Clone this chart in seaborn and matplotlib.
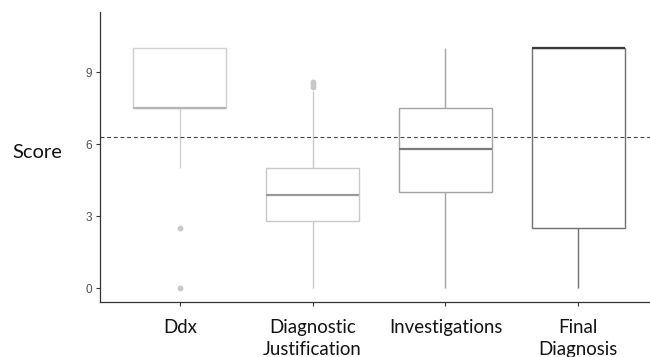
import numpy as np
import pandas as pd
import matplotlib
matplotlib.use("Agg")
import matplotlib.pyplot as plt
import seaborn as sns

categories = ["Ddx", "Diagnostic\nJustification", "Investigations", "Final\nDiagnosis"]
ddx = [0, 2.5, 5, 7.5, 7.5, 7.5, 7.5, 7.5, 7.5, 10, 10, 10, 10, 10]
diag_just = [0, 0.7, 1.3, 1.8, 2.2, 2.5, 2.8, 3.0, 3.2, 3.4, 3.6, 3.8, 3.9,
             4.1, 4.3, 4.5, 4.7, 4.9, 5.0, 5.6, 6.4, 8.2, 8.4, 8.5, 8.6]
investigations = [0, 2.5, 4.0, 5.0, 5.8, 6.7, 7.5, 8.8, 10]
final_dx = [0, 2.5, 2.5, 10, 10, 10, 10, 10, 10]
reference_line = 6.3
yticks = [0, 3, 6, 9]

box_colors = ["#cfcfcf", "#c9c9c9", "#a3a3a3", "#707070"]
median_colors = ["#b5b5b5", "#9a9a9a", "#7a7a7a", "#3a3a3a"]

series = [ddx, diag_just, investigations, final_dx]
df = pd.DataFrame({
    "Category": np.repeat(categories, [len(s) for s in series]),
    "Score": np.concatenate(series),
})

sns.set_theme(style="white")
fig = plt.figure(figsize=(6.5, 3.57), dpi=100)
ax = fig.add_axes([0.154, 0.154, 0.846, 0.812])

for cat, bc, mc in zip(categories, box_colors, median_colors):
    sub = df[df["Category"] == cat]
    sns.boxplot(data=sub, x="Category", y="Score", order=categories, ax=ax,
                color="white", linecolor=bc, width=0.7, linewidth=1.0,
                showcaps=False,
                medianprops=dict(color=mc, linewidth=1.6),
                flierprops=dict(marker="o", markersize=3.2, markerfacecolor="#c8c8c8",
                                markeredgecolor="#c8c8c8"))

ax.axhline(reference_line, color="#444444", linewidth=0.8, linestyle=(0, (3.5, 2.5)))

ax.set_ylim(-0.58, 11.5)
ax.set_xlim(-0.6, 3.54)
ax.set_yticks(yticks)
ax.set_yticklabels([str(t) for t in yticks], fontsize=8.5, color="#4d4d4d",
                   family=["Liberation Sans", "DejaVu Sans"])
ax.set_xticks(range(len(categories)))
ax.set_xticklabels(categories, fontsize=13.4, color="#111111", family=["Lato", "DejaVu Sans"],
                   linespacing=1.35)
ax.tick_params(axis="both", which="both", length=3, width=0.8, color="#333333",
               left=True, bottom=True)
ax.tick_params(axis="x", pad=9)
ax.tick_params(axis="y", pad=3)

ax.set_xlabel("")
ax.set_ylabel("Score", rotation=0, fontsize=14.5, family=["Lato", "DejaVu Sans"],
              color="#111111", labelpad=0)
ax.yaxis.set_label_coords(-0.115, 0.485)

for s in ["top", "right"]:
    ax.spines[s].set_visible(False)
for s in ["left", "bottom"]:
    ax.spines[s].set_color("#333333")
    ax.spines[s].set_linewidth(0.9)

fig.savefig("out.png", dpi=100)
